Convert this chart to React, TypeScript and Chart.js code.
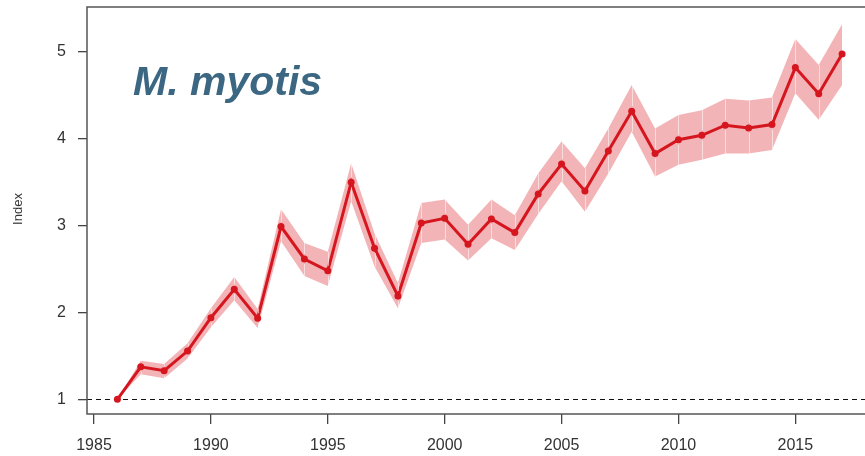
import React, { useEffect, useRef } from "react";
import { Chart, registerables } from "chart.js";

Chart.register(...registerables);

const years = [1986, 1987, 1988, 1989, 1990, 1991, 1992, 1993, 1994, 1995, 1996, 1997, 1998, 1999, 2000, 2001, 2002, 2003, 2004, 2005, 2006, 2007, 2008, 2009, 2010, 2011, 2012, 2013, 2014, 2015, 2016, 2017];
const indexValues = [1.0, 1.375, 1.33, 1.556, 1.94, 2.267, 1.933, 2.99, 2.616, 2.48, 3.5, 2.74, 2.19, 3.03, 3.085, 2.786, 3.077, 2.92, 3.365, 3.71, 3.4, 3.86, 4.318, 3.83, 3.99, 4.04, 4.157, 4.126, 4.164, 4.82, 4.52, 4.978];
const upperValues = [1.0, 1.445, 1.407, 1.645, 2.05, 2.41, 2.04, 3.19, 2.8, 2.7, 3.72, 2.91, 2.34, 3.26, 3.3, 3.01, 3.3, 3.12, 3.6, 3.97, 3.66, 4.12, 4.62, 4.12, 4.275, 4.33, 4.46, 4.44, 4.475, 5.15, 4.85, 5.32];
const lowerValues = [1.0, 1.29, 1.242, 1.47, 1.83, 2.14, 1.82, 2.82, 2.42, 2.305, 3.28, 2.53, 2.05, 2.8, 2.84, 2.6, 2.855, 2.72, 3.135, 3.51, 3.16, 3.6, 4.08, 3.565, 3.7, 3.76, 3.83, 3.83, 3.87, 4.525, 4.22, 4.62];
const xTickValues = [1985, 1990, 1995, 2000, 2005, 2010, 2015];
const yTickValues = [1, 2, 3, 4, 5];
const referenceLevel = 1;
const titleText = "M. myotis";
const yAxisTitle = "Index";

const FONT = "'Liberation Sans', Arial, Helvetica, sans-serif";

const decorPlugin = {
  id: "decor",
  beforeDatasetsDraw(chart: any) {
    const { ctx, chartArea, scales } = chart;
    const y1 = Math.round(scales.y.getPixelForValue(referenceLevel)) + 0.5;
    ctx.save();
    ctx.strokeStyle = "#111";
    ctx.lineWidth = 1;
    ctx.setLineDash([5, 4]);
    ctx.beginPath();
    ctx.moveTo(chartArea.left, y1);
    ctx.lineTo(chartArea.right, y1);
    ctx.stroke();
    ctx.restore();
  },
  afterDatasetsDraw(chart: any) {
    const { ctx, scales } = chart;
    ctx.save();
    ctx.strokeStyle = "rgba(255,255,255,0.55)";
    ctx.lineWidth = 1;
    for (let i = 1; i < years.length - 1; i++) {
      const x = Math.round(scales.x.getPixelForValue(years[i])) + 0.5;
      const yu = scales.y.getPixelForValue(upperValues[i]);
      const yl = scales.y.getPixelForValue(lowerValues[i]);
      const yi = scales.y.getPixelForValue(indexValues[i]);
      ctx.beginPath();
      ctx.moveTo(x, yu);
      ctx.lineTo(x, yi - 5);
      ctx.moveTo(x, yi + 5);
      ctx.lineTo(x, yl);
      ctx.stroke();
    }
    ctx.restore();
  },
  afterDraw(chart: any) {
    const { ctx, chartArea } = chart;
    ctx.save();
    ctx.strokeStyle = "#555";
    ctx.lineWidth = 1.5;
    ctx.beginPath();
    ctx.moveTo(chartArea.right + 2, chartArea.top);
    ctx.lineTo(chartArea.left, chartArea.top);
    ctx.lineTo(chartArea.left, chartArea.bottom);
    ctx.lineTo(chartArea.right + 2, chartArea.bottom);
    ctx.stroke();
    ctx.fillStyle = "#3b6782";
    ctx.font = `italic bold 41px ${FONT}`;
    ctx.textAlign = "left";
    ctx.textBaseline = "alphabetic";
    ctx.fillText(titleText, 133, 95);
    ctx.translate(22, 209);
    ctx.rotate(-Math.PI / 2);
    ctx.fillStyle = "#333";
    ctx.font = `13px ${FONT}`;
    ctx.textAlign = "center";
    ctx.textBaseline = "alphabetic";
    ctx.fillText(yAxisTitle, 0, 0);
    ctx.restore();
  },
};

export default function App() {
  const ref = useRef<HTMLCanvasElement | null>(null);
  useEffect(() => {
    if (!ref.current) return;
    const toPts = (arr: number[]) => years.map((yr, i) => ({ x: yr, y: arr[i] }));
    const chart = new Chart(ref.current, {
      type: "line",
      data: {
        datasets: [
          {
            label: "Index",
            data: toPts(indexValues),
            borderColor: "#d6161f",
            backgroundColor: "#d6161f",
            borderWidth: 3,
            pointRadius: 3.5,
            pointBackgroundColor: "#d6161f",
            pointBorderWidth: 0,
            tension: 0,
            fill: false,
            order: 0,
          },
          {
            label: "upper",
            data: toPts(upperValues),
            borderWidth: 0,
            borderColor: "rgba(0,0,0,0)",
            pointRadius: 0,
            backgroundColor: "rgba(241,176,178,0.95)",
            fill: "+1",
            tension: 0,
            order: 2,
          },
          {
            label: "lower",
            data: toPts(lowerValues),
            borderWidth: 0,
            borderColor: "rgba(0,0,0,0)",
            pointRadius: 0,
            fill: false,
            tension: 0,
            order: 3,
          },
        ],
      },
      options: {
        responsive: false,
        animation: false,
        events: [],
        layout: { autoPadding: false, padding: { top: 7, right: 0, left: 0, bottom: 0 } },
        plugins: {
          legend: { display: false },
          tooltip: { enabled: false },
          title: { display: false },
        },
        scales: {
          x: {
            type: "linear",
            min: 1984.7,
            max: 2017.98,
            afterBuildTicks: (scale: any) => {
              scale.ticks = xTickValues.map((v) => ({ value: v }));
            },
            afterFit: (scale: any) => {
              scale.height = 42;
              scale.paddingLeft = 0;
              scale.paddingRight = 0;
            },
            grid: {
              display: true,
              drawOnChartArea: false,
              drawTicks: true,
              tickLength: 10,
              color: "#444",
              lineWidth: 1.3,
            },
            border: { display: false },
            ticks: {
              autoSkip: false,
              maxRotation: 0,
              padding: 12,
              color: "#333",
              font: { family: FONT, size: 16 },
              callback: (v: any) => String(v),
            },
          },
          y: {
            type: "linear",
            min: 0.831,
            max: 5.518,
            afterBuildTicks: (scale: any) => {
              scale.ticks = yTickValues.map((v) => ({ value: v }));
            },
            afterFit: (scale: any) => {
              scale.width = 87;
              scale.paddingTop = 0;
              scale.paddingBottom = 0;
            },
            grid: {
              display: true,
              drawOnChartArea: false,
              drawTicks: true,
              tickLength: 9,
              color: "#444",
              lineWidth: 1.3,
            },
            border: { display: false },
            ticks: {
              autoSkip: false,
              padding: 12,
              color: "#333",
              font: { family: FONT, size: 16 },
              callback: (v: any) => String(v),
            },
          },
        },
      },
      plugins: [decorPlugin],
    });
    return () => chart.destroy();
  }, []);
  return (
    <div style={{ position: "fixed", left: 0, top: 0, width: 865, height: 456, background: "#fff" }}>
      <canvas ref={ref} width={865} height={456} style={{ display: "block", width: 865, height: 456 }} />
    </div>
  );
}
